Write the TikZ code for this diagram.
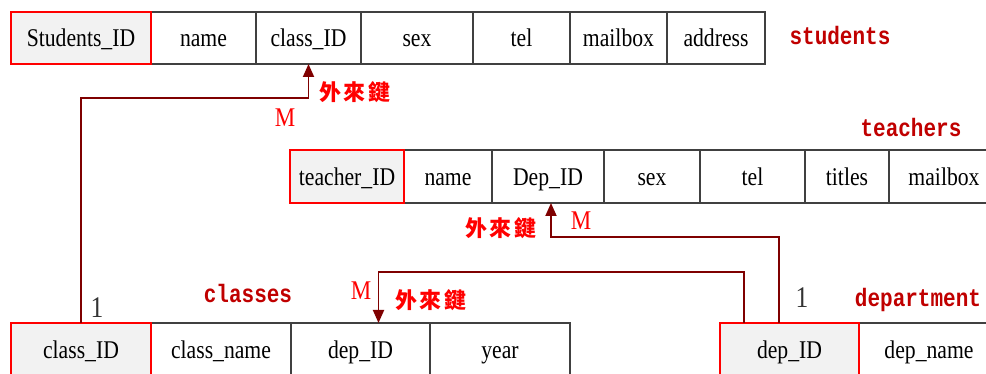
\documentclass[tikz,border=0pt]{standalone}
\usepackage{fontspec}
\setmainfont{Liberation Serif}
\newfontfamily\cellfont[FakeStretch=0.85]{Liberation Serif}
\newfontfamily\tblfont{Liberation Mono}
\newfontfamily\cjkfont{Noto Sans CJK TC}
\usetikzlibrary{arrows.meta}
\definecolor{conncol}{HTML}{7F0000}
\definecolor{keyfill}{HTML}{F2F2F2}
\definecolor{bordercol}{HTML}{404040}
\definecolor{tblred}{HTML}{C00000}
\definecolor{fkred}{HTML}{FF0000}
\newcommand{\tallname}[1]{\scalebox{1}[1.2]{#1}}
\newcommand{\fkey}{外\hspace{2.5pt}來\hspace{2.5pt}鍵}
\begin{document}
\begin{tikzpicture}[x=1pt,y=-1pt,
 cell/.style={draw=bordercol, line width=1.2pt, anchor=north west, inner sep=0pt, outer sep=0pt,
   minimum height=52pt, text height=20pt, text depth=2pt, font=\cellfont\fontsize{25.5}{28}\selectfont},
 keycell/.style={cell, draw=fkred, line width=2.5pt, fill=keyfill},
 conn/.style={draw=conncol, line width=1.8pt},
 tip/.style={-{Triangle[length=13pt,width=11pt]}},
 tblname/.style={text=tblred, anchor=base, font=\tblfont\bfseries\fontsize{21}{24}\selectfont, inner sep=0pt},
 fk/.style={text=fkred, font=\cjkfont\bfseries\fontsize{22}{24}\selectfont, inner sep=0pt},
 card/.style={text=fkred, anchor=base, font=\cellfont\fontsize{27}{30}\selectfont, inner sep=0pt},
 one/.style={text=black!80, anchor=base, font=\cellfont\fontsize{30}{32}\selectfont, inner sep=0pt}
]
\useasboundingbox (0,0) rectangle (986,374);
% students
\node[cell, minimum width=105pt] (s_name) at (151,12) {name};
\node[cell, minimum width=105pt] (s_cid)  at (256,12) {class\_ID};
\node[cell, minimum width=112pt] (s_sex)  at (361,12) {sex};
\node[cell, minimum width=97pt]  (s_tel)  at (473,12) {tel};
\node[cell, minimum width=97pt]  (s_mail) at (570,12) {mailbox};
\node[cell, minimum width=98pt]  (s_addr) at (667,12) {address};
\node[keycell, minimum width=140pt] (s_id) at (11,12) {Students\_ID};
% teachers
\node[cell, minimum height=53pt, minimum width=88pt]  (t_name)  at (404,150) {name};
\node[cell, minimum height=53pt, minimum width=112pt] (t_dep)   at (492,150) {Dep\_ID};
\node[cell, minimum height=53pt, minimum width=96pt]  (t_sex)   at (604,150) {sex};
\node[cell, minimum height=53pt, minimum width=105pt] (t_tel)   at (700,150) {tel};
\node[cell, minimum height=53pt, minimum width=84pt]  (t_title) at (805,150) {titles};
\node[cell, minimum height=53pt, minimum width=110pt, text width=97pt, align=center] (t_mail) at (889,150) {mailbox};
\node[keycell, minimum height=53pt, minimum width=114pt] (t_id) at (290,150) {teacher\_ID};
% classes
\node[cell, minimum width=140pt] (c_name) at (151,323) {class\_name};
\node[cell, minimum width=139pt] (c_dep)  at (291,323) {dep\_ID};
\node[cell, minimum width=140pt] (c_year) at (430,323) {year};
\node[keycell, minimum width=140pt] (c_id) at (11,323) {class\_ID};
% department
\node[cell, minimum width=140pt, text width=127pt, align=center] (d_name) at (859,323) {dep\_name};
\node[keycell, minimum width=139pt] (d_id) at (720,323) {dep\_ID};
% table names
\node[tblname] (l_students) at (840,45) {\tallname{students}};
\node[tblname] (l_teachers) at (911,137) {\tallname{teachers}};
\node[tblname] (l_classes)  at (248,303) {\tallname{classes}};
\node[tblname] (l_dept)     at (918,307) {\tallname{department}};
% connectors
\coordinate (bend1) at (0,98);
\coordinate (bend2) at (0,237);
\coordinate (bend3) at (0,272);
\coordinate (dA) at ([xshift=24pt]d_id.north west);
\coordinate (dB) at ([xshift=59pt]d_id.north west);
\coordinate (tdep) at ([xshift=3pt]t_dep.south);
\coordinate (cdep) at ([xshift=18pt]c_dep.north);
\draw[conn,tip] (c_id.north) -- (c_id.north |- bend1) -| (s_cid.south);
\draw[conn,tip] (dB) -- (dB |- bend2) -| (tdep);
\draw[conn,tip] (dA) -- (dA |- bend3) -| (cdep);
% labels
\node[fk] (fk1) at (355,92) {\fkey};
\node[fk] (fk2) at (501,228) {\fkey};
\node[fk] (fk3) at (431,300) {\fkey};
\node[card] (m1) at (285,127) {M};
\node[card] (m2) at (581,230) {M};
\node[card] (m3) at (361,300) {M};
\node[one] (one1) at (97,317) {1};
\node[one] (one2) at (802,308) {1};
\end{tikzpicture}
\end{document}
